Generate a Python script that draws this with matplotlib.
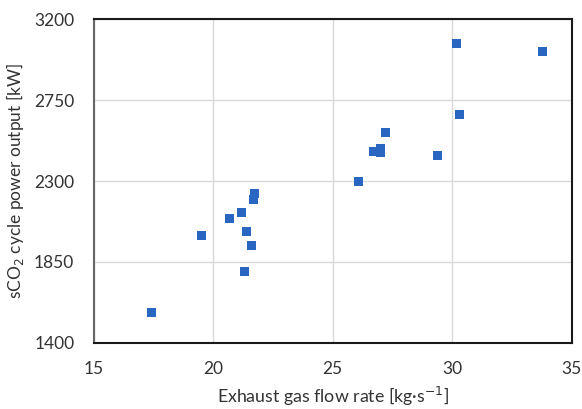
import matplotlib.pyplot as plt

# exhaust gas flow rate [kg/s] and sCO2 cycle power output [kW]
flow_rate = [17.4, 19.5, 20.7, 21.2, 21.4, 21.6, 21.3, 21.7, 21.75,
             26.1, 26.7, 27.0, 27.0, 27.2, 29.4, 30.3, 30.2, 33.8]
power_out = [1570, 1998, 2089, 2126, 2022, 1943, 1796, 2200, 2228,
             2298, 2463, 2482, 2456, 2572, 2441, 2672, 3065, 3022]

x_ticks = [15, 20, 25, 30, 35]
y_ticks = [1400, 1850, 2300, 2750, 3200]

plt.rcParams['font.family'] = ['Lato', 'DejaVu Sans']

fig = plt.figure(figsize=(5.82, 4.09), dpi=100)
ax = fig.add_axes([0.161, 0.1614, 0.821, 0.7921])

ax.scatter(flow_rate, power_out, marker='s', s=42, color='#2966C2',
           edgecolors='none', zorder=3)

ax.set_xlim(15, 35)
ax.set_ylim(1400, 3200)
ax.set_xticks(x_ticks)
ax.set_yticks(y_ticks)
ax.grid(True, color='#D9D9D9', linewidth=1.0, zorder=0)
ax.tick_params(length=0, labelsize=12.5, colors='#333333')
ax.tick_params(axis='x', pad=13)
ax.tick_params(axis='y', pad=14)

for s in ax.spines.values():
    s.set_color('#1A1A1A')
    s.set_linewidth(1.5)
ax.spines['left'].set_color('#666666')

ax.set_xlabel('Exhaust gas flow rate [kg·s$^{-1}$]', fontsize=12.8, color='#333333', labelpad=6)
ax.set_ylabel('sCO$_2$ cycle power output [kW]', fontsize=12.5, color='#333333', labelpad=6)

fig.savefig('out.png', dpi=100)
